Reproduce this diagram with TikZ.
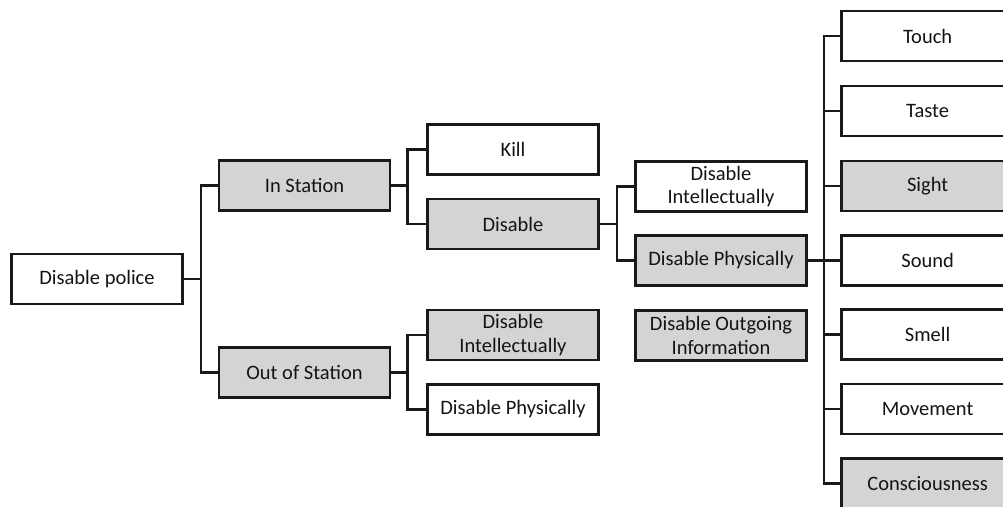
\documentclass[tikz,border=0pt]{standalone}
\usepackage{fontspec}
\setmainfont{Carlito}
% label of a box running past the right edge: text centred in the visible part
\newcommand\edgelabel[1]{\makebox[168pt]{#1}\hspace*{40pt}}
\begin{document}
\begin{tikzpicture}[x=1pt,y=-1pt,
  box/.style={draw=black!90, line width=2.6pt, minimum width=171pt, minimum height=50pt,
    inner sep=2pt, align=center, font=\fontsize{20.5}{23.5}\selectfont, text=black!92, fill=white},
  grey/.style={box, fill=black!17},
  edge/.style={anchor=west, minimum width=0pt},
  link/.style={draw=black!90, line width=2.6pt, line join=miter}]
\useasboundingbox (0,0) rectangle (1003,506);
\clip (0,0) rectangle (1003,506);
% root and first level
\node[box]  (police) at (97,279)   {Disable police};
\node[grey] (instat) at (304.5,185.5) {In Station};
\node[grey] (outstat) at (304.5,372.5) {Out of Station};
% second level
\node[box]  (kill) at (513,149.5) {Kill};
\node[grey] (dis) at (513,224) {Disable};
\node[grey] (intelA) at (513,335) {Disable\\Intellectually};
\node[box]  (physA) at (513,409.5) {Disable Physically};
% third level
\node[box]  (intelB) at (721,186.5) {Disable\\Intellectually};
\node[grey] (physB) at (721,260.5) {Disable Physically};
\node[grey] (outinfo) at (721,335.5) {Disable Outgoing\\Information};
% senses
\node[box,edge]  (touch) at (840.3,36) {\edgelabel{Touch}};
\node[box,edge]  (taste) at (840.3,111) {\edgelabel{Taste}};
\node[grey,edge] (sight) at (840.3,186) {\edgelabel{Sight}};
\node[box,edge]  (sound) at (840.3,260.5) {\edgelabel{Sound}};
\node[box,edge]  (smell) at (840.3,334.5) {\edgelabel{Smell}};
\node[box,edge]  (move) at (840.3,409) {\edgelabel{Movement}};
\node[grey,edge] (consc) at (840.3,483.5) {\edgelabel{Consciousness}};
% elbow connectors
\foreach \c in {instat,outstat}
  \draw[link] (police.east) -- ++(17,0) |- (\c.west);
\foreach \c in {kill,dis}
  \draw[link] (instat.east) -- ++(16,0) |- (\c.west);
\foreach \c in {intelA,physA}
  \draw[link] (outstat.east) -- ++(16,0) |- (\c.west);
\foreach \c in {intelB,physB}
  \draw[link] (dis.east) -- ++(17,0) |- (\c.west);
\foreach \c in {touch,taste,sight,sound,smell,move,consc}
  \draw[link] (physB.east) -- ++(16,0) |- (\c.west);
\end{tikzpicture}
\end{document}
